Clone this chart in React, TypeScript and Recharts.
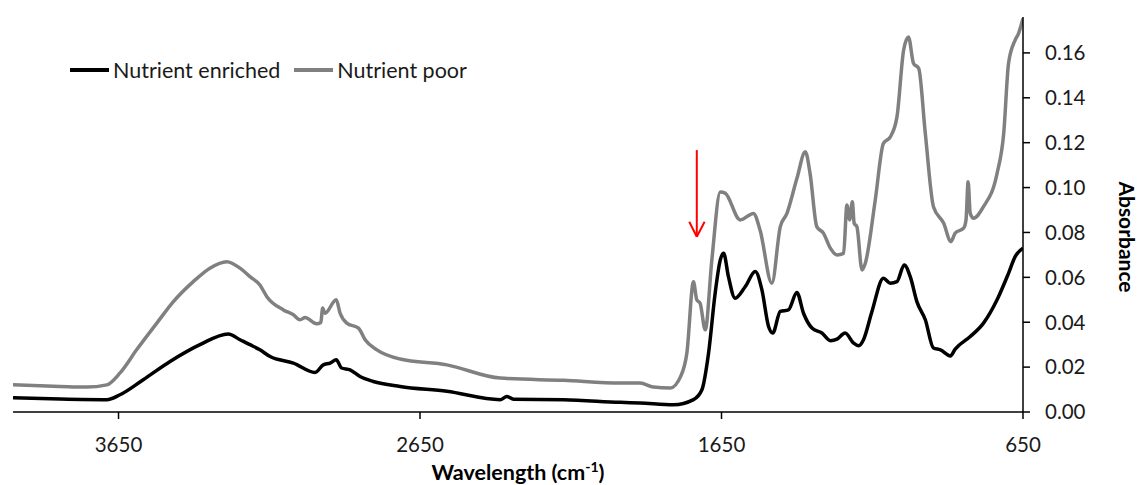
import { LineChart, Line, XAxis, YAxis, Legend, Label, ReferenceLine } from "recharts";

// FTIR spectra (wavenumber in cm-1, absorbance)
const enrichedWavenumber = [
  4000, 3844, 3689, 3645, 3568, 3479, 3380, 3286, 3247, 3214, 3181, 3147, 3070, 2998, 2971,
  2948, 2928, 2910, 2882, 2849, 2805, 2716, 2561, 2384, 2362, 2340, 2174, 1986, 1920, 1809,
  1743, 1715, 1693, 1671, 1654, 1643, 1627, 1605, 1571, 1538, 1516, 1494, 1480, 1455, 1428,
  1400, 1378, 1350, 1317, 1289, 1267, 1240, 1212, 1195, 1179, 1151, 1113, 1090, 1068, 1044,
  1024, 1002, 974, 947, 924, 891, 875, 825, 781, 736, 698, 676, 650,
];
const enrichedAbsorbance = [
  0.0064, 0.0058, 0.0055, 0.0077, 0.0144, 0.0225, 0.03, 0.0348, 0.0322, 0.03, 0.0277, 0.0247,
  0.0218, 0.0176, 0.021, 0.0218, 0.0233, 0.0196, 0.0188, 0.0158, 0.0136, 0.0114, 0.0092, 0.0055,
  0.0069, 0.0057, 0.0055, 0.0043, 0.004, 0.0032, 0.0055, 0.0099, 0.0262, 0.053, 0.0678, 0.0707,
  0.0603, 0.0507, 0.0559, 0.0626, 0.0544, 0.0381, 0.0352, 0.0448, 0.0455, 0.0532, 0.044, 0.0374,
  0.0352, 0.0318, 0.0325, 0.0352, 0.0307, 0.0295, 0.0322, 0.0448, 0.0596, 0.0574, 0.0581, 0.0655,
  0.0603, 0.0492, 0.0411, 0.0285, 0.0277, 0.025, 0.028, 0.0336, 0.0396, 0.05, 0.0618, 0.0692, 0.073,
];

const poorWavenumber = [
  4000, 3844, 3756, 3689, 3645, 3590, 3523, 3468, 3402, 3347, 3291, 3247, 3214, 3181, 3158,
  3103, 3070, 3048, 3031, 2993, 2979, 2973, 2965, 2928, 2915, 2893, 2854, 2832, 2793, 2716,
  2561, 2384, 2174, 1986, 1920, 1876, 1820, 1785, 1765, 1743, 1732, 1721, 1704, 1682, 1654,
  1638, 1588, 1544, 1522, 1483, 1455, 1433, 1400, 1372, 1356, 1334, 1312, 1289, 1267, 1245,
  1234, 1225, 1216, 1210, 1201, 1184, 1173, 1140, 1113, 1090, 1068, 1046, 1030, 1013, 996,
  974, 947, 913, 889, 875, 847, 839, 832, 825, 814, 781, 736, 714, 698, 676, 665, 650,
];
const poorAbsorbance = [
  0.0121, 0.0114, 0.0111, 0.0121, 0.0174, 0.0277, 0.0396, 0.0492, 0.0581, 0.0641, 0.067, 0.0641,
  0.0603, 0.0566, 0.0514, 0.0455, 0.0433, 0.0411, 0.0421, 0.0393, 0.0399, 0.0463, 0.044, 0.05,
  0.044, 0.0396, 0.0374, 0.0322, 0.0277, 0.0236, 0.021, 0.0151, 0.0141, 0.0129, 0.0129, 0.0111,
  0.0107, 0.016, 0.0262, 0.058, 0.05, 0.0485, 0.0366, 0.0678, 0.098, 0.0975, 0.0856, 0.0885,
  0.081, 0.0574, 0.0826, 0.0885, 0.104, 0.116, 0.106, 0.0826, 0.0797, 0.073, 0.07, 0.0707,
  0.0922, 0.0856, 0.0937, 0.0841, 0.0826, 0.0633, 0.0663, 0.0945, 0.1197, 0.1226, 0.1315, 0.1612,
  0.1671, 0.1553, 0.1531, 0.1241, 0.0915, 0.0841, 0.0759, 0.0797, 0.0819, 0.0856, 0.1026, 0.0885,
  0.0863, 0.0915, 0.1063, 0.1241, 0.1553, 0.1657, 0.1686, 0.1753,
];

const seriesNames = ["Nutrient enriched", "Nutrient poor"];
const xTicks = [3650, 2650, 1650, 650];
const yTicks = [0, 0.02, 0.04, 0.06, 0.08, 0.1, 0.12, 0.14, 0.16];

// red arrow marking the ~1735 cm-1 band (shaft, then the two head strokes)
const arrowShaft = [{ x: 1732, y: 0.1167 }, { x: 1732, y: 0.0785 }];
const arrowLeft = [{ x: 1757, y: 0.0848 }, { x: 1732, y: 0.0781 }];
const arrowRight = [{ x: 1706, y: 0.0848 }, { x: 1732, y: 0.0781 }];

const enriched = enrichedWavenumber.map((w, i) => ({ w, a: enrichedAbsorbance[i] }));
const poor = poorWavenumber.map((w, i) => ({ w, a: poorAbsorbance[i] }));

const FONT = "Lato, 'Open Sans', sans-serif";

function LegendBox(props: any) {
  const items = props.payload || [];
  return (
    <div style={{ display: "flex", alignItems: "center", fontFamily: FONT, fontSize: 21.5, color: "#1a1a1a", whiteSpace: "nowrap" }}>
      {items.map((it: any, i: number) => (
        <div key={i} style={{ display: "flex", alignItems: "center", marginRight: 14 }}>
          <svg width={39} height={6} style={{ marginRight: 4 }}>
            <line x1={0} y1={3} x2={39} y2={3} stroke={it.color} strokeWidth={4} />
          </svg>
          <span>{it.value}</span>
        </div>
      ))}
    </div>
  );
}

function XTitle(props: any) {
  const { x, width } = props.viewBox;
  return (
    <text x={x + width / 2} y={480} textAnchor="middle" fontFamily={FONT} fontSize={21.5} fontWeight="bold" fill="#000">
      Wavelength (cm<tspan dy={-8} fontSize={14}>-1</tspan><tspan dy={8}>)</tspan>
    </text>
  );
}

function YTitle(props: any) {
  const { x } = props.viewBox;
  const cx = x + 104;
  const cy = 237;
  return (
    <text x={cx} y={cy} transform={`rotate(90, ${cx}, ${cy})`} textAnchor="middle" dominantBaseline="central"
      fontFamily={FONT} fontSize={21} fontWeight="bold" fill="#000">
      Absorbance
    </text>
  );
}

export default function App() {
  return (
    <div style={{ position: "absolute", left: 0, top: 0, background: "#fff" }}>
      <LineChart width={1139} height={485} margin={{ top: 17, right: 16, left: 13, bottom: 1 }}>
        <XAxis
          dataKey="w"
          type="number"
          domain={[650, 4000]}
          reversed
          ticks={xTicks}
          allowDataOverflow
          height={72}
          tickSize={7}
          tickMargin={18}
          stroke="#000"
          strokeWidth={1.5}
          tick={{ fill: "#1a1a1a", fontSize: 20.5, fontFamily: FONT }}
        >
          <Label content={<XTitle />} />
        </XAxis>
        <YAxis
          orientation="right"
          type="number"
          domain={[0, 0.176]}
          ticks={yTicks}
          allowDataOverflow
          width={100}
          tickSize={7}
          tickMargin={15}
          stroke="#000"
          strokeWidth={1.5}
          tickFormatter={(v: number) => v.toFixed(2)}
          tick={{ fill: "#1a1a1a", fontSize: 20.5, fontFamily: FONT, textAnchor: "start" }}
        >
          <Label content={<YTitle />} />
        </YAxis>
        <Legend
          layout="vertical"
          align="center"
          verticalAlign="middle"
          wrapperStyle={{ left: 70, top: 57, width: "auto" }}
          content={<LegendBox />}
        />
        <Line
          data={enriched}
          dataKey="a"
          name={seriesNames[0]}
          type="monotone"
          stroke="#000000"
          strokeWidth={3.5}
          dot={false}
          isAnimationActive={false}
        />
        <Line
          data={poor}
          dataKey="a"
          name={seriesNames[1]}
          type="monotone"
          stroke="#808080"
          strokeWidth={3.5}
          dot={false}
          isAnimationActive={false}
        />
        <ReferenceLine segment={arrowShaft} stroke="#ff0000" strokeWidth={2} ifOverflow="visible" />
        <ReferenceLine segment={arrowLeft} stroke="#ff0000" strokeWidth={2} ifOverflow="visible" />
        <ReferenceLine segment={arrowRight} stroke="#ff0000" strokeWidth={2} ifOverflow="visible" />
      </LineChart>
    </div>
  );
}
